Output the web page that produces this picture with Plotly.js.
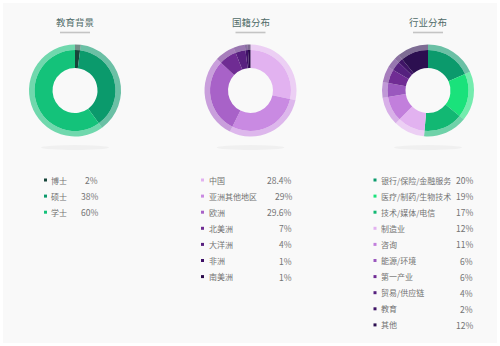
<!DOCTYPE html>
<html>
<head>
<meta charset="utf-8">
<script src="https://cdn.plot.ly/plotly-3.0.1.min.js"></script>
<style>
html,body{margin:0;padding:0;background:#ffffff;}
#chart{width:500px;height:346px;}
</style>
</head>
<body>
<div id="chart"></div>
<script>
// ---- data ----
const eduTitle = '教育背景';
const eduLabels = ['博士', '硕士', '学士'];
const eduValues = [2, 38, 60];

const natTitle = '国籍分布';
const natLabels = ['中国', '亚洲其他地区', '欧洲', '北美洲', '大洋洲', '非洲', '南美洲'];
const natValues = [28.4, 29, 29.6, 7, 4, 1, 1];

const indTitle = '行业分布';
const indLabels = ['银行/保险/金融服务', '医疗/制药/生物技术', '技术/媒体/电信', '制造业', '咨询', '能源/环境', '第一产业', '贸易/供应链', '教育', '其他'];
const indValues = [20, 19, 17, 12, 11, 6, 6, 4, 2, 12];

// ---- styles ----
const eduColors = ['#17453a', '#0b9a6c', '#14c27a'];
const natColors = ['#e2b2f0', '#c98ae2', '#a862c8', '#6f2c93', '#58207f', '#3f1167', '#2a0a4a'];
const indColors = ['#0b9a6c', '#1ae27b', '#12b873', '#e2b2f0', '#c27fdc', '#9a58be', '#702c94', '#55207e', '#3f1466', '#2c0f50'];

const W = 500, H = 346;
const px = x => x / W;
const py = y => 1 - y / H;

function rgba(hex, a) {
  const r = parseInt(hex.slice(1,3),16), g = parseInt(hex.slice(3,5),16), b = parseInt(hex.slice(5,7),16);
  return `rgba(${r},${g},${b},${a})`;
}

const charts = [
  {title: eduTitle, labels: eduLabels, values: eduValues, colors: eduColors, cx: 75, marker: 45.5, labelX: 49, valueX: 100},
  {title: natTitle, labels: natLabels, values: natValues, colors: natColors, cx: 250.5, marker: 202.5, labelX: 207, valueX: 294},
  {title: indTitle, labels: indLabels, values: indValues, colors: indColors, cx: 428, marker: 375, labelX: 379, valueX: 475}
];

const cy = 90.5, Rout = 46, Rin = 40.5, Rhole = 22.5;
const rowTop = 180, rowStep = 16.1;
const font = '"Noto Sans CJK SC", "Noto Sans", sans-serif';

const traces = [];
const shapes = [
  {type:'rect', xref:'paper', yref:'paper', x0:px(3), x1:px(497), y0:py(343), y1:py(3), fillcolor:'#f9f9f9', line:{width:0}, layer:'below'}
];
const annotations = [];

charts.forEach(c => {
  // outer translucent ring
  traces.push({
    type:'pie', labels:c.labels, values:c.values, sort:false, direction:'clockwise', rotation:0,
    hole: Rin / Rout, textinfo:'none', hoverinfo:'label+percent', showlegend:false,
    marker:{colors:c.colors.map(h => rgba(h, 0.6)), line:{width:0}},
    domain:{x:[px(c.cx - Rout), px(c.cx + Rout)], y:[py(cy + Rout), py(cy - Rout)]}
  });
  // inner solid ring
  traces.push({
    type:'pie', labels:c.labels, values:c.values, sort:false, direction:'clockwise', rotation:0,
    hole: Rhole / Rin, textinfo:'none', hoverinfo:'label+percent', showlegend:false,
    marker:{colors:c.colors, line:{width:0}},
    domain:{x:[px(c.cx - Rin), px(c.cx + Rin)], y:[py(cy + Rin), py(cy - Rin)]}
  });
  // title
  annotations.push({xref:'paper', yref:'paper', x:px(c.cx), y:py(22.5), xanchor:'center', yanchor:'middle',
    text:c.title, showarrow:false, font:{family:font, size:9.5, color:'#4f6b68'}});
  // underline
  shapes.push({type:'line', xref:'paper', yref:'paper', x0:px(c.cx - 15), x1:px(c.cx + 15), y0:py(32.5), y1:py(32.5),
    line:{color:'#c4c4c4', width:1.6}});
  // soft shadow
  shapes.push({type:'circle', xref:'paper', yref:'paper', x0:px(c.cx - 34), x1:px(c.cx + 34), y0:py(150), y1:py(145),
    fillcolor:'rgba(0,0,0,0.035)', line:{width:0}, layer:'below'});
  // legend rows
  c.labels.forEach((lab, i) => {
    const y = rowTop + i * rowStep;
    shapes.push({type:'rect', xref:'paper', yref:'paper', x0:px(c.marker - 1.5), x1:px(c.marker + 1.5), y0:py(y + 1.5), y1:py(y - 1.5),
      fillcolor:c.colors[i], line:{width:0}});
    annotations.push({xref:'paper', yref:'paper', x:px(c.labelX), y:py(y), xanchor:'left', yanchor:'middle',
      text:lab, showarrow:false, font:{family:font, size:8, color:'#737373'}});
    annotations.push({xref:'paper', yref:'paper', x:px(c.valueX), y:py(y), xanchor:'right', yanchor:'middle',
      text:String(c.values[i]) + '%', showarrow:false, font:{family:font, size:8.5, color:'#737373'}});
  });
});

const layout = {
  width: W, height: H,
  margin:{l:0, r:0, t:0, b:0},
  paper_bgcolor:'#ffffff', plot_bgcolor:'#ffffff',
  showlegend:false,
  shapes: shapes,
  annotations: annotations
};

Plotly.newPlot('chart', traces, layout, {displayModeBar:false, staticPlot:true});
</script>
</body>
</html>
